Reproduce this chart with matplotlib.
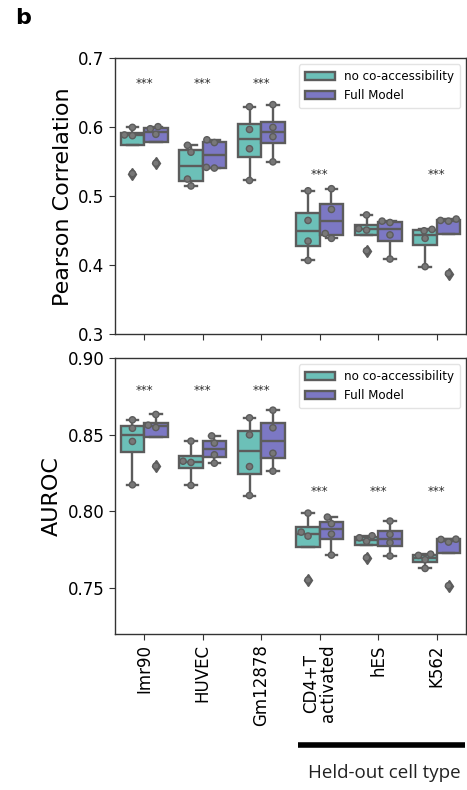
import numpy as np
import pandas as pd
import matplotlib
matplotlib.use('Agg')
import matplotlib.pyplot as plt
import seaborn as sns

# cell types and model labels
cells = ['Imr90', 'HUVEC', 'Gm12878', 'CD4+T\nactivated', 'hES', 'K562']
models = ['no co-accessibility', 'Full Model']
colors = ['#6cc0b8', '#7c78c4']

# Pearson correlation, 4 folds per cell type
pearson_noco = [
    [0.533, 0.588, 0.589, 0.600],
    [0.515, 0.525, 0.564, 0.574],
    [0.523, 0.569, 0.597, 0.630],
    [0.407, 0.435, 0.465, 0.508],
    [0.421, 0.451, 0.453, 0.473],
    [0.398, 0.439, 0.450, 0.452],
]
pearson_full = [
    [0.548, 0.590, 0.598, 0.601],
    [0.541, 0.542, 0.578, 0.582],
    [0.550, 0.5865, 0.600, 0.633],
    [0.439, 0.446, 0.481, 0.511],
    [0.409, 0.444, 0.462, 0.464],
    [0.388, 0.464, 0.465, 0.467],
]

# AUROC, 4 folds per cell type
auroc_noco = [
    [0.8174, 0.8457, 0.8543, 0.8598],
    [0.8170, 0.8320, 0.8328, 0.8459],
    [0.8104, 0.8293, 0.8500, 0.8611],
    [0.7552, 0.7839, 0.7865, 0.7989],
    [0.7698, 0.7805, 0.7828, 0.7841],
    [0.7628, 0.7685, 0.7713, 0.7721],
]
auroc_full = [
    [0.8296, 0.8548, 0.8563, 0.8633],
    [0.8315, 0.8370, 0.8446, 0.8493],
    [0.8263, 0.8380, 0.8546, 0.8661],
    [0.7715, 0.7852, 0.7920, 0.7963],
    [0.7709, 0.7796, 0.7850, 0.7937],
    [0.7515, 0.7800, 0.7817, 0.7819],
]

# significance stars (height per cell type, None = no star)
pearson_star = [0.664, 0.664, 0.664, 0.532, None, 0.532]
auroc_star = [0.8787, 0.8787, 0.8787, 0.8133, 0.8133, 0.8133]


def make_df(noco, full):
    rows = []
    for i, c in enumerate(cells):
        for v in noco[i]:
            rows.append((c, models[0], v))
        for v in full[i]:
            rows.append((c, models[1], v))
    return pd.DataFrame(rows, columns=['cell', 'model', 'value'])


line_gray = '#5c5c5c'


def draw_panel(ax, df, stars, ylabel, ylim, yticks, yfmt):
    sns.boxplot(data=df, x='cell', y='value', hue='model', order=cells,
                hue_order=models, palette=colors, saturation=1, width=0.8,
                linecolor=line_gray, linewidth=1.7, ax=ax,
                flierprops=dict(marker='d', markersize=6,
                                markerfacecolor=line_gray,
                                markeredgecolor=line_gray))
    sns.swarmplot(data=df, x='cell', y='value', hue='model', order=cells,
                  hue_order=models, palette=['#787878', '#787878'],
                  dodge=True, size=4.5, linewidth=1, edgecolor=line_gray,
                  legend=False, ax=ax)
    for i, s in enumerate(stars):
        if s is not None:
            ax.text(i, s, '***', ha='center', va='center', fontsize=8.5,
                    color='#2b2b2b')
    ax.set_ylim(ylim)
    ax.set_yticks(yticks)
    ax.set_yticklabels([yfmt % t for t in yticks], fontsize=12)
    ax.set_xlim(-0.5, 5.5)
    ax.set_ylabel(ylabel, fontsize=16)
    ax.set_xlabel('')
    ax.tick_params(axis='both', length=4, color='#333333')
    for sp in ax.spines.values():
        sp.set_color('#333333')
        sp.set_linewidth(1.0)
    leg = ax.legend(loc='upper right', fontsize=8.6, frameon=True,
                    handlelength=2.5, borderpad=0.5, labelspacing=0.5)
    leg.get_frame().set_edgecolor('#dddddd')


fig = plt.figure(figsize=(4.67, 7.9), dpi=100)
ax1 = fig.add_axes([0.246, 0.577, 0.752, 0.349])
ax2 = fig.add_axes([0.246, 0.1975, 0.752, 0.349])

draw_panel(ax1, make_df(pearson_noco, pearson_full), pearson_star,
           'Pearson Correlation', (0.3, 0.7), [0.3, 0.4, 0.5, 0.6, 0.7], '%.1f')
ax1.set_xticklabels([])

draw_panel(ax2, make_df(auroc_noco, auroc_full), auroc_star,
           'AUROC', (0.72, 0.90), [0.75, 0.80, 0.85, 0.90], '%.2f')
ax2.set_xticks(range(len(cells)))
ax2.set_xticklabels(cells, rotation=90, fontsize=12, linespacing=0.95)

fig.text(0.032, 0.977, 'b', fontsize=16, fontweight='bold', va='center')

# held-out bracket
fig.add_artist(plt.Line2D([298 / 467, 465 / 467], [1 - 745 / 790, 1 - 745 / 790],
                          color='black', linewidth=4, solid_capstyle='butt'))
fig.text(384.5 / 467, 1 - 773 / 790, 'Held-out cell type', ha='center',
         va='center', fontsize=13.5, family=['Open Sans', 'DejaVu Sans'],
         color='#222222')

fig.savefig('out.png', dpi=100)
